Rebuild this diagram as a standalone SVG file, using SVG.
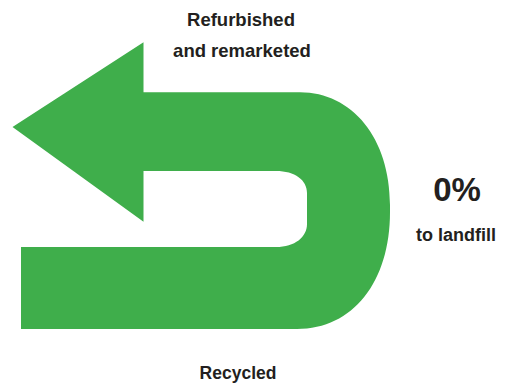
<svg xmlns="http://www.w3.org/2000/svg" width="505" height="387" viewBox="0 0 505 387">
<style>
.lbl{font-family:"Liberation Sans",Arial,sans-serif;font-weight:bold;fill:#231F20;text-anchor:middle}
.arrow{fill:#3FAE4B;stroke:none}
</style>
<rect width="505" height="387" fill="#ffffff"/>
<g id="arrow">
<path class="arrow" d="M12.5,127 L143.5,42.3 L143.5,92.3 L300,92.3 C352,92.3 390,138 390,205 L390,212 C390,282 353,329 297,329 L21,329 L21,247 L276,247 C295,247 307,237 307,224 L307,193 C307,180 295,171 276,171 L143.5,171 L143.5,221.7 Z"/>
</g>
<g id="label-refurbished">
<text class="lbl" x="241" y="25.7" font-size="18.5">Refurbished</text>
<text class="lbl" x="242" y="57" font-size="18.5">and remarketed</text>
</g>
<g id="label-landfill">
<text class="lbl" x="457" y="200.5" font-size="33">0%</text>
<text class="lbl" x="456" y="241" font-size="18">to landfill</text>
</g>
<g id="label-recycled">
<text class="lbl" x="238" y="379.3" font-size="17.5">Recycled</text>
</g>
<g id="connectors"></g>
</svg>
